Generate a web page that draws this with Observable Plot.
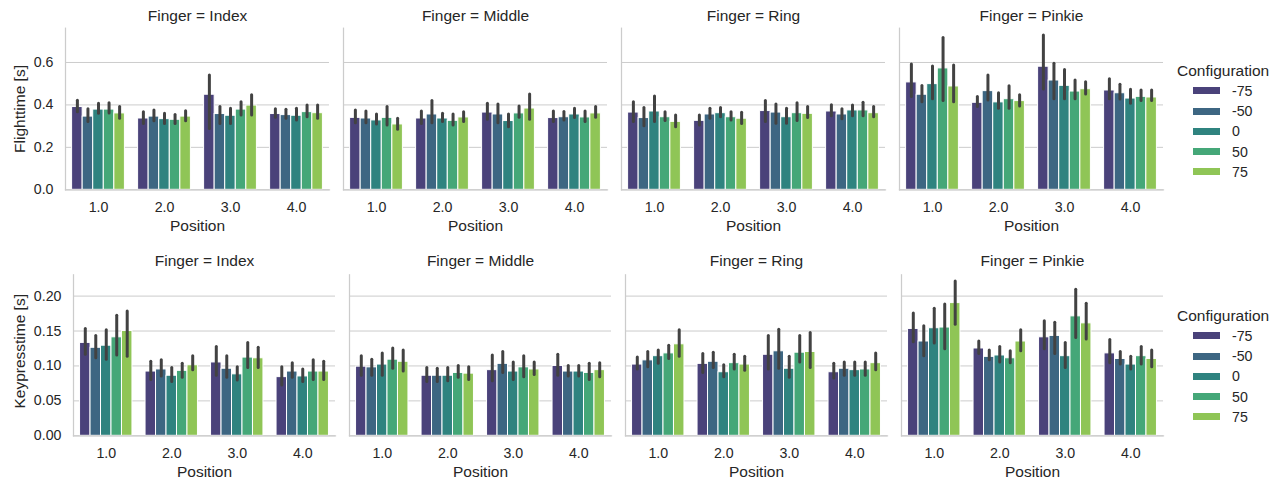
<!DOCTYPE html>
<html><head><meta charset="utf-8">
<script src="https://cdn.jsdelivr.net/npm/d3@7"></script>
<script src="https://cdn.jsdelivr.net/npm/@observablehq/plot@0.6"></script>
<style>
body{margin:0;background:#fff;font-family:"Liberation Sans",Arial,sans-serif;color:#262626}
#wrap{position:relative;width:1278px;height:480px;overflow:hidden;background:#fff}
.row{position:absolute;left:0}
.lt{position:absolute;font-size:15.5px;line-height:18px;white-space:nowrap}
.sw{position:absolute;width:27px;height:7px}
.ll{position:absolute;font-size:14.2px;line-height:18px;white-space:nowrap}
</style></head><body><div id="wrap"></div>
<script>
const fingers = ["Index", "Middle", "Ring", "Pinkie"];
const positions = [1, 2, 3, 4];
const configurations = ["-75", "-50", "0", "50", "75"];
const flightTicks = [0, 0.2, 0.4, 0.6];
const keyTicks = [0, 0.05, 0.10, 0.15, 0.20];
const flightYMax = 0.7615;
const keyYMax = 0.2305;

// [finger][position][configuration]
const flightMean = [
  [[0.390,0.345,0.378,0.378,0.360],[0.336,0.345,0.333,0.330,0.345],[0.448,0.357,0.349,0.378,0.397],[0.357,0.352,0.349,0.366,0.361]],
  [[0.339,0.336,0.327,0.339,0.308],[0.336,0.355,0.336,0.325,0.341],[0.364,0.355,0.324,0.360,0.383],[0.338,0.342,0.355,0.341,0.360]],
  [[0.364,0.338,0.369,0.342,0.320],[0.325,0.355,0.361,0.342,0.335],[0.371,0.364,0.342,0.361,0.358],[0.369,0.355,0.374,0.374,0.361]],
  [[0.506,0.448,0.498,0.572,0.487],[0.410,0.465,0.412,0.427,0.418],[0.580,0.515,0.490,0.463,0.474],[0.468,0.455,0.430,0.438,0.435]]
];
const flightLo = [
  [[0.365,0.320,0.358,0.360,0.335],[0.310,0.323,0.310,0.310,0.323],[0.287,0.310,0.310,0.350,0.350],[0.340,0.335,0.327,0.342,0.335]],
  [[0.314,0.314,0.308,0.303,0.283],[0.310,0.314,0.319,0.303,0.319],[0.330,0.314,0.295,0.339,0.330],[0.319,0.327,0.338,0.319,0.339]],
  [[0.319,0.300,0.319,0.324,0.295],[0.303,0.335,0.342,0.327,0.310],[0.319,0.311,0.311,0.324,0.338],[0.346,0.333,0.347,0.347,0.342]],
  [[0.437,0.413,0.427,0.418,0.413],[0.390,0.421,0.382,0.382,0.393],[0.473,0.427,0.427,0.427,0.449],[0.427,0.426,0.405,0.418,0.418]]
];
const flightHi = [
  [[0.420,0.380,0.405,0.408,0.390],[0.366,0.374,0.358,0.353,0.370],[0.539,0.390,0.382,0.413,0.445],[0.380,0.377,0.382,0.397,0.397]],
  [[0.374,0.369,0.355,0.390,0.335],[0.369,0.418,0.358,0.355,0.366],[0.405,0.402,0.355,0.393,0.449],[0.369,0.367,0.382,0.369,0.390]],
  [[0.413,0.386,0.440,0.366,0.350],[0.350,0.382,0.385,0.366,0.363],[0.418,0.402,0.382,0.408,0.390],[0.399,0.380,0.397,0.410,0.390]],
  [[0.591,0.489,0.581,0.715,0.586],[0.437,0.539,0.455,0.488,0.446],[0.727,0.594,0.565,0.515,0.507],[0.521,0.495,0.471,0.468,0.468]]
];
const keyMean = [
  [[0.133,0.126,0.129,0.141,0.150],[0.092,0.095,0.086,0.093,0.101],[0.105,0.096,0.088,0.112,0.111],[0.084,0.092,0.085,0.092,0.092]],
  [[0.099,0.098,0.102,0.109,0.106],[0.086,0.086,0.086,0.090,0.089],[0.094,0.103,0.092,0.098,0.095],[0.100,0.092,0.092,0.090,0.094]],
  [[0.102,0.108,0.114,0.118,0.131],[0.103,0.106,0.091,0.104,0.102],[0.116,0.121,0.096,0.119,0.120],[0.091,0.096,0.094,0.095,0.104]],
  [[0.153,0.135,0.154,0.155,0.190],[0.125,0.113,0.115,0.111,0.135],[0.141,0.143,0.114,0.171,0.161],[0.118,0.110,0.102,0.114,0.110]]
];
const keyLo = [
  [[0.116,0.111,0.109,0.115,0.113],[0.080,0.085,0.077,0.083,0.094],[0.086,0.083,0.079,0.097,0.097],[0.072,0.083,0.077,0.080,0.080]],
  [[0.086,0.086,0.086,0.096,0.092],[0.077,0.077,0.078,0.083,0.080],[0.078,0.090,0.080,0.084,0.087],[0.086,0.085,0.085,0.080,0.084]],
  [[0.095,0.098,0.103,0.110,0.113],[0.090,0.097,0.084,0.095,0.093],[0.095,0.096,0.083,0.105,0.097],[0.082,0.086,0.086,0.086,0.094]],
  [[0.134,0.114,0.132,0.124,0.159],[0.117,0.108,0.105,0.104,0.121],[0.124,0.117,0.097,0.140,0.138],[0.104,0.102,0.095,0.102,0.098]]
];
const keyHi = [
  [[0.153,0.143,0.151,0.172,0.178],[0.106,0.108,0.097,0.103,0.114],[0.127,0.114,0.098,0.133,0.126],[0.098,0.104,0.095,0.108,0.106]],
  [[0.114,0.109,0.118,0.125,0.122],[0.097,0.096,0.097,0.100,0.098],[0.115,0.120,0.105,0.114,0.105],[0.116,0.100,0.100,0.103,0.104]],
  [[0.112,0.120,0.122,0.129,0.151],[0.117,0.119,0.101,0.116,0.113],[0.143,0.152,0.113,0.143,0.147],[0.103,0.105,0.105,0.105,0.118]],
  [[0.175,0.157,0.182,0.188,0.221],[0.135,0.122,0.127,0.121,0.151],[0.164,0.162,0.133,0.209,0.189],[0.137,0.120,0.113,0.127,0.122]]
];

// seaborn viridis palette, desaturated to 0.75
const palette = configurations.map((c, i) => {
  const h = d3.hsl(d3.interpolateViridis((i + 1) / (configurations.length + 1)));
  h.s *= 0.75;
  return h.formatHex();
});

const FONT = '"Liberation Sans", Arial, sans-serif';
const INK = "#262626";

function makeRow(mean, lo, hi, ymax, ticks, fmt, label, o) {
  const rows = [];
  fingers.forEach((f, fi) => positions.forEach((p, pi) => configurations.forEach((c, ci) => {
    rows.push({finger: f, pos: p, ci, cfg: c, mean: mean[fi][pi][ci], lo: lo[fi][pi][ci], hi: hi[fi][pi][ci]});
  })));
  const n = configurations.length, w = 0.8 / n;
  return Plot.plot({
    width: 1278, height: o.H,
    marginLeft: o.mL, marginRight: 114, marginTop: o.mT, marginBottom: o.H - o.bottom,
    style: {fontFamily: FONT, fontSize: "14.2px", color: INK, background: "white", overflow: "visible"},
    fx: {domain: fingers, paddingInner: 0.05, paddingOuter: 0, axis: null, label: null},
    x: {domain: [0.5, 4.5]},
    y: {domain: [0, ymax]},
    color: {domain: configurations, range: palette},
    marks: [
      Plot.gridY(ticks, {stroke: "#cccccc", strokeOpacity: 1, strokeWidth: 1}),
      Plot.rectY(rows, {fx: "finger", x1: d => d.pos - 0.4 + d.ci * w, x2: d => d.pos - 0.4 + (d.ci + 1) * w,
        y1: 0, y2: "mean", fill: "cfg", stroke: "white", strokeWidth: 1}),
      Plot.frame({anchor: "left", stroke: "#cccccc", strokeWidth: 1.25}),
      Plot.frame({anchor: "bottom", stroke: "#cccccc", strokeWidth: 1.25}),
      Plot.ruleX(rows, {fx: "finger", x: d => d.pos - 0.4 + (d.ci + 0.5) * w, y1: "lo", y2: "hi",
        stroke: "#424242", strokeWidth: 3, strokeLinecap: "round"}),
      Plot.axisX(positions, {tickSize: 0, tickPadding: 12, tickFormat: d => d.toFixed(1), label: null, fontSize: 14.2, fill: INK}),
      Plot.axisY(ticks, {tickSize: 0, tickPadding: 12, tickFormat: fmt, label: null, fontSize: 14.2, fill: INK}),
      Plot.text(fingers, {fx: d => d, text: d => `Finger = ${d}`, frameAnchor: "top", dy: o.titleDy,
        lineAnchor: "middle", textAnchor: "middle", fontSize: 15.5, fill: INK}),
      Plot.text(fingers, {fx: d => d, text: () => "Position", frameAnchor: "bottom", dy: 36.3,
        lineAnchor: "middle", textAnchor: "middle", fontSize: 15.5, fill: INK}),
      Plot.text([label], {fx: () => fingers[0], text: d => d, frameAnchor: "left", dx: o.labelDx, dy: o.labelDy || 0,
        rotate: -90, lineAnchor: "middle", textAnchor: "middle", fontSize: 15.5, fill: INK})
    ]
  });
}

const wrap = document.getElementById("wrap");

function addRow(svg, top) {
  const d = document.createElement("div");
  d.className = "row";
  d.style.top = top + "px";
  d.appendChild(svg);
  wrap.appendChild(d);
}

addRow(makeRow(flightMean, flightLo, flightHi, flightYMax, flightTicks, ".1f", "Flighttime [s]",
  {H: 240, mL: 64.3, mT: 27.7, bottom: 189.3, titleDy: -12.4, labelDx: -45.3}), 0);
addRow(makeRow(keyMean, keyLo, keyHi, keyYMax, keyTicks, ".2f", "Keypresstime [s]",
  {H: 240, mL: 72.7, mT: 34.3, bottom: 195.3, titleDy: -13.6, labelDx: -53.7, labelDy: -4}), 240);

function addLegend(titleCenter) {
  const t = document.createElement("div");
  t.className = "lt";
  t.textContent = "Configuration";
  t.style.left = "1177px";
  t.style.top = (titleCenter - 9) + "px";
  wrap.appendChild(t);
  configurations.forEach((c, i) => {
    const cy = titleCenter + 19.8 + i * 20.25;
    const s = document.createElement("div");
    s.className = "sw";
    s.style.left = "1193px";
    s.style.top = (cy - 3.5) + "px";
    s.style.background = palette[i];
    wrap.appendChild(s);
    const l = document.createElement("div");
    l.className = "ll";
    l.textContent = c;
    l.style.left = "1232px";
    l.style.top = (cy - 9) + "px";
    wrap.appendChild(l);
  });
}
addLegend(71);
addLegend(316);
</script>
</body></html>
